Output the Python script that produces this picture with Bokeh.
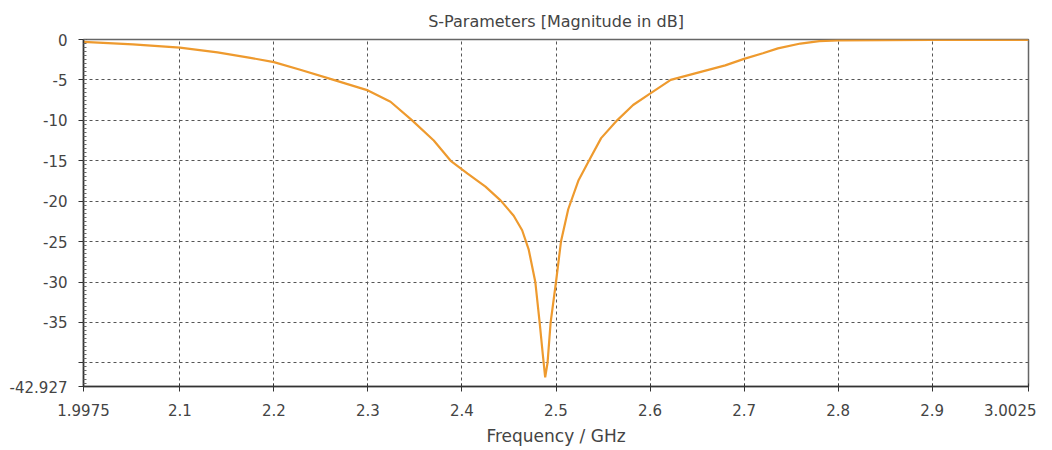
from bokeh.plotting import figure
from bokeh.models import FixedTicker, Range1d
from bokeh.embed import file_html
from bokeh.resources import INLINE

freq = [1.9975, 2.05, 2.1, 2.14, 2.175, 2.2, 2.228, 2.2635, 2.3, 2.324, 2.347, 2.37,
        2.388, 2.406, 2.425, 2.441, 2.455, 2.464, 2.471, 2.478, 2.4826, 2.486, 2.4885,
        2.491, 2.4943, 2.5, 2.5053, 2.513, 2.524, 2.535, 2.548, 2.565, 2.582, 2.6,
        2.622, 2.654, 2.68, 2.7, 2.72, 2.736, 2.76, 2.78, 2.8, 2.9, 3.0025]
s11_db = [-0.3, -0.6, -1.0, -1.6, -2.27, -2.8, -3.75, -5.0, -6.3, -7.7, -10.0, -12.5,
          -15.0, -16.6, -18.2, -19.9, -21.8, -23.6, -26.0, -30.0, -35.0, -39.0, -41.8,
          -40.0, -35.0, -30.0, -25.0, -21.0, -17.4, -15.0, -12.2, -10.0, -8.1, -6.7,
          -5.0, -4.0, -3.2, -2.4, -1.7, -1.1, -0.5, -0.2, -0.1, -0.05, -0.05]

x_ticks = [1.9975, 2.1, 2.2, 2.3, 2.4, 2.5, 2.6, 2.7, 2.8, 2.9, 3.0025]
x_labels = ["1.9975", "2.1", "2.2", "2.3", "2.4", "2.5", "2.6", "2.7", "2.8", "2.9", "3.0025"]
y_ticks = [0, -5, -10, -15, -20, -25, -30, -35, -40, -42.927]
y_labels = ["0", "-5", "-10", "-15", "-20", "-25", "-30", "-35", "", "-42.927"]
title_text = "S-Parameters [Magnitude in dB]"

FONT = "DejaVu Sans"
TXT = "#444444"

p = figure(width=1036, height=448, output_backend="svg", toolbar_location=None,
           x_range=Range1d(1.9975, 3.0025), y_range=Range1d(-42.927, 0),
           min_border_left=83, min_border_right=8, min_border_top=39, min_border_bottom=61,
           title=title_text)

p.title.align = "center"
p.title.text_font = FONT
p.title.text_font_size = "16px"
p.title.text_font_style = "normal"
p.title.text_color = TXT
p.title.offset = 0
p.title.standoff = 17

p.line(freq, s11_db, line_color="#EE9A2E", line_width=2.2)

p.xaxis.ticker = FixedTicker(ticks=x_ticks)
p.xaxis.major_label_overrides = {t: l for t, l in zip(x_ticks, x_labels)}
p.yaxis.ticker = FixedTicker(ticks=y_ticks, minor_ticks=[-0.5 * i for i in range(86)])
p.yaxis.major_label_overrides = {t: l for t, l in zip(y_ticks, y_labels)}

for ax in (p.xaxis[0], p.yaxis[0]):
    ax.major_label_text_font = FONT
    ax.major_label_text_font_size = "15px"
    ax.major_label_text_color = TXT
    ax.axis_line_color = "#333333"
    ax.axis_line_width = 1.5
    ax.major_tick_line_color = "#333333"
    ax.major_tick_in = 3
    ax.major_tick_out = 5
    ax.minor_tick_line_color = "#666666"
    ax.minor_tick_in = 3
    ax.minor_tick_out = 0
    ax.axis_label_text_font = FONT
    ax.axis_label_text_font_size = "17px"
    ax.axis_label_text_font_style = "normal"
    ax.axis_label_text_color = TXT

p.yaxis.major_label_standoff = 11
p.xaxis.major_label_standoff = 12
p.xaxis.minor_tick_line_color = None
p.xaxis.axis_label = "Frequency / GHz"
p.xaxis.axis_label_standoff = 7

p.grid.grid_line_color = "#555555"
p.grid.grid_line_dash = "3 3"
p.grid.grid_line_width = 1
p.outline_line_color = "#666666"
p.outline_line_width = 1.5
p.background_fill_color = "white"
p.border_fill_color = "white"

open("out.html", "w").write(file_html(p, INLINE))
